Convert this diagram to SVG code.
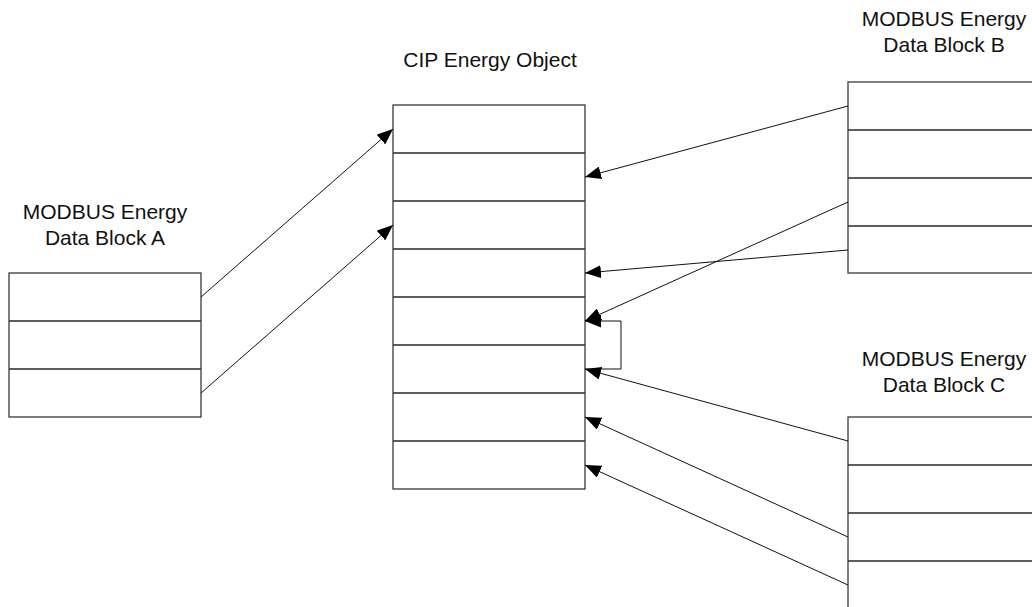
<svg xmlns="http://www.w3.org/2000/svg" width="1032" height="607" viewBox="0 0 1032 607">
<style>
.box{fill:#fff;stroke:#3a3a3a;stroke-width:1.3}
.div{stroke:#2a2a2a;stroke-width:1.3}
.lbl{font-family:"Liberation Sans",Arial,sans-serif;font-size:21px;fill:#111;text-anchor:middle}
.con{fill:none;stroke:#111;stroke-width:1}
</style>
<defs>
<marker id="ah" markerUnits="userSpaceOnUse" markerWidth="17" markerHeight="13" refX="16" refY="6.5" orient="auto">
<path d="M0,0 L16,6.5 L0,13 z" fill="#000"/>
</marker>
</defs>
<rect width="1032" height="607" fill="#fff"/>
<g id="cip">
<text class="lbl" x="490" y="67">CIP Energy Object</text>
<rect class="box" x="393" y="105" width="192" height="384"/>
<path class="div" d="M393,153H585M393,201H585M393,249H585M393,297H585M393,345H585M393,393H585M393,441H585"/>
</g>
<g id="blockA">
<text class="lbl" x="105" y="219">MODBUS Energy</text>
<text class="lbl" x="105" y="245">Data Block A</text>
<rect class="box" x="9" y="273" width="192" height="144"/>
<path class="div" d="M9,321H201M9,369H201"/>
</g>
<g id="blockB">
<text class="lbl" x="944" y="26">MODBUS Energy</text>
<text class="lbl" x="944" y="52">Data Block B</text>
<rect class="box" x="848" y="82" width="192" height="191"/>
<path class="div" d="M848,130H1040M848,178H1040M848,226H1040"/>
</g>
<g id="blockC">
<text class="lbl" x="944" y="366">MODBUS Energy</text>
<text class="lbl" x="944" y="392">Data Block C</text>
<rect class="box" x="848" y="417" width="192" height="192"/>
<path class="div" d="M848,465H1040M848,513H1040M848,561H1040"/>
</g>
<g id="connectors">
<path class="con" marker-end="url(#ah)" d="M201,297L393,129"/>
<path class="con" marker-end="url(#ah)" d="M201,393L393,225"/>
<path class="con" marker-end="url(#ah)" d="M848,106L585,177"/>
<path class="con" marker-end="url(#ah)" d="M848,202L585,321"/>
<path class="con" marker-end="url(#ah)" d="M848,250L585,273"/>
<path class="con" marker-end="url(#ah)" d="M585,369H621V321H585"/>
<path class="con" marker-end="url(#ah)" d="M848,441L585,369"/>
<path class="con" marker-end="url(#ah)" d="M848,537L585,417"/>
<path class="con" marker-end="url(#ah)" d="M848,585L585,465"/>
</g>
</svg>
